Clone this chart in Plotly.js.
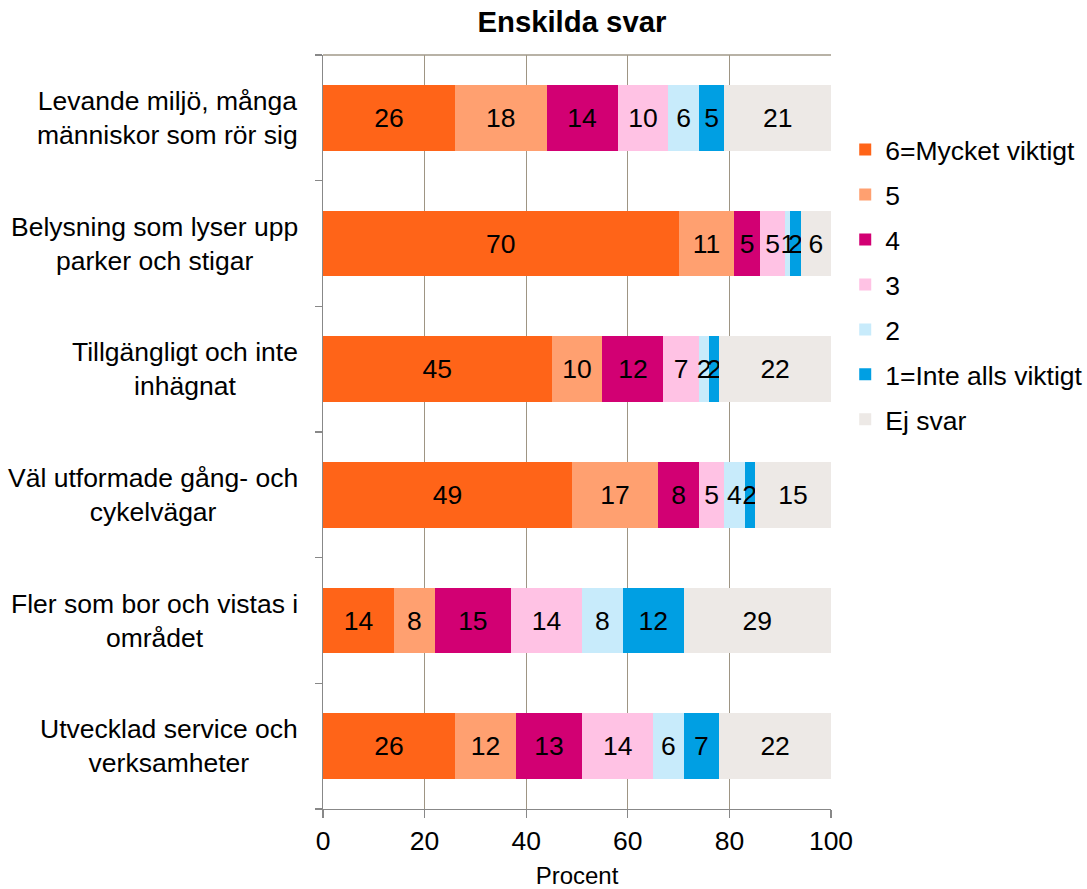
<!DOCTYPE html>
<html><head><meta charset="utf-8">
<script src="https://cdn.plot.ly/plotly-3.0.1.min.js"></script>
<style>body{margin:0;background:#fff}#chart{width:1087px;height:889px}</style>
</head><body><div id="chart"></div>
<script>
const categories = [
  "Levande miljö, många<br>människor som rör sig",
  "Belysning som lyser upp<br>parker och stigar",
  "Tillgängligt och inte<br>inhägnat",
  "Väl utformade gång- och<br>cykelvägar",
  "Fler som bor och vistas i<br>området",
  "Utvecklad service och<br>verksamheter"
];
const seriesNames = ["6=Mycket viktigt","5","4","3","2","1=Inte alls viktigt","Ej svar"];
const s6  = [26, 70, 45, 49, 14, 26];
const s5  = [18, 11, 10, 17,  8, 12];
const s4  = [14,  5, 12,  8, 15, 13];
const s3  = [10,  5,  7,  5, 14, 14];
const s2  = [ 6,  1,  2,  4,  8,  6];
const s1  = [ 5,  2,  2,  2, 12,  7];
const sEj = [21,  6, 22, 15, 29, 22];
const seriesValues = [s6, s5, s4, s3, s2, s1, sEj];
const colors = ["#FF6418","#FFA070","#D20073","#FFC2E4","#C8EBFB","#009FE3","#EDE9E6"];

const FONT = "Liberation Sans, Arial, sans-serif";
const FS = 26.5;

const traces = seriesValues.map((vals, i) => ({
  type: "bar",
  orientation: "h",
  name: seriesNames[i],
  legendgroup: "g" + i,
  x: vals,
  y: categories,
  marker: {color: colors[i], line: {width: 0}},
  text: vals.map(String),
  textposition: "inside",
  insidetextanchor: "middle",
  textangle: 0,
  textfont: {family: FONT, size: FS, color: "#000"},
  hoverinfo: "x+name"
}));

// invisible trace to drive the boundary-tick axis
traces.push({type: "scatter", x: [null], y: [null], yaxis: "y2", showlegend: false, hoverinfo: "skip"});

// category labels, centred line by line, right edge next to the axis
const catAnnotations = categories.map(c => ({
  text: c, xref: "paper", x: -0.045, xanchor: "right",
  yref: "y", y: c, yanchor: "middle", align: "center",
  showarrow: false, font: {family: FONT, size: FS, color: "#000"}
}));

const layout = {
  width: 1087, height: 889,
  margin: {l: 323, r: 256, t: 55, b: 80, autoexpand: false},
  paper_bgcolor: "#fff", plot_bgcolor: "#fff",
  barmode: "stack",
  bargap: 0.476,
  font: {family: FONT, size: FS, color: "#000"},
  uniformtext: {minsize: FS, mode: "show"},
  title: {text: "<b>Enskilda svar</b>", font: {family: FONT, size: 29.3, color: "#000"},
          x: 0.49, xref: "paper", y: 0.975, yanchor: "middle"},
  xaxis: {
    range: [0, 100], tickvals: [0, 20, 40, 60, 80, 100],
    showgrid: true, gridcolor: "#9E9584", gridwidth: 1.3,
    zeroline: false,
    showline: true, linecolor: "#888888", linewidth: 1.3,
    ticks: "outside", ticklen: 8, tickcolor: "#888888", tickwidth: 1.3,
    tickfont: {family: FONT, size: FS, color: "#000"},
    title: {text: "Procent", font: {family: FONT, size: 24, color: "#000"}, standoff: 14},
    fixedrange: true
  },
  yaxis: {
    type: "category", range: [5.5, -0.5],
    showgrid: false, zeroline: false,
    showline: true, linecolor: "#888888", linewidth: 1.3,
    ticks: "", showticklabels: false,
    fixedrange: true
  },
  yaxis2: {
    overlaying: "y", range: [5.5, -0.5],
    tickvals: [-0.5, 0.5, 1.5, 2.5, 3.5, 4.5, 5.5],
    showticklabels: false, showgrid: false, zeroline: false, showline: false,
    ticks: "outside", ticklen: 7, tickcolor: "#888888", tickwidth: 1.3,
    side: "left", fixedrange: true
  },
  annotations: catAnnotations,
  shapes: [{type: "line", xref: "paper", yref: "paper", x0: 0, x1: 1, y0: 1, y1: 1,
            line: {color: "#A09888", width: 1.5}}],
  legend: {
    x: 1.028, xanchor: "left", y: 0.906, yanchor: "top",
    traceorder: "grouped", tracegroupgap: 7.5,
    font: {family: FONT, size: FS, color: "#000"},
    itemwidth: 30, bgcolor: "rgba(0,0,0,0)"
  },
  showlegend: true
};

Plotly.newPlot("chart", traces, layout, {displayModeBar: false, staticPlot: true});
</script></body></html>
